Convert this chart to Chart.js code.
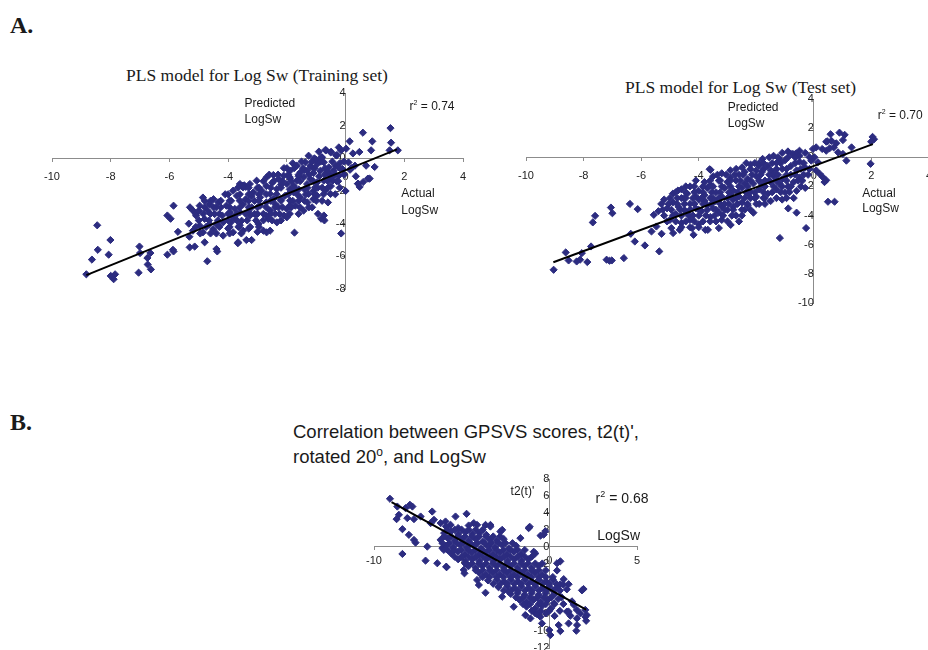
<!DOCTYPE html>
<html>
<head>
<meta charset="utf-8">
<title>PLS model for Log Sw</title>
<script src="https://cdn.jsdelivr.net/npm/chart.js@4.4.0/dist/chart.umd.min.js"></script>
<style>
  html, body { margin: 0; padding: 0; background: #fff; }
  body { width: 928px; height: 650px; overflow: hidden; position: relative;
         font-family: "Liberation Sans", Arial, sans-serif; }
  canvas { position: absolute; }
  .txt { position: absolute; white-space: nowrap; color: #1a1a1a; line-height: 1; }
  .serif { font-family: "Liberation Serif", "Times New Roman", serif; }
</style>
</head>
<body>

<div class="txt serif" style="left:10px; top:13px; font-size:24px; font-weight:bold;">A.</div>
<div class="txt serif" style="left:10px; top:410px; font-size:24px; font-weight:bold;">B.</div>

<div class="txt serif" style="left:126px; top:67px; font-size:17.5px;">PLS model for Log Sw (Training set)</div>
<div class="txt serif" style="left:625px; top:79px; font-size:17.5px;">PLS model for Log Sw (Test set)</div>

<div class="txt" style="left:293px; top:419px; font-size:18.5px; line-height:25px;">
  Correlation between GPSVS scores, t2(t)',<br>rotated 20<span style="position:relative; top:-7px; font-size:12px;">o</span>, and LogSw
</div>

<canvas id="trainChart" width="491" height="276" style="left:12px; top:53px;"></canvas>
<canvas id="testChart" width="483" height="284" style="left:486px; top:59px;"></canvas>
<canvas id="gpsvsChart" width="343" height="249" style="left:334px; top:439px;"></canvas>

<script>
// ---- data ----

// A. training set: [actual LogSw, predicted LogSw]
const trainingPoints = [
  [-8.46,-4.1],[-8.01,-5.0],[-8.44,-5.6],[-8.64,-6.2],[-8.07,-5.9],[-8.83,-7.1],[-8.0,-7.2],[-7.9,-7.4],
  [-7.85,-7.1],[-7.02,-5.4],[-7.0,-5.8],[-7.05,-7.0],[-6.75,-6.1],[-6.65,-5.8],[-6.74,-6.5],[-6.63,-6.8],
  [-6.07,-3.5],[-5.96,-3.7],[-5.86,-2.9],[-6.07,-5.9],[-5.88,-5.6],[-5.86,-5.7],[-5.71,-4.5],[-5.34,-4.0],
  [-5.32,-4.8],[-5.14,-5.4],[-5.3,-3.0],[-5.2,-3.2],[-5.1,-3.4],[-4.86,-2.4],[-4.71,-6.3],[-4.37,-5.7],
  [-3.67,-5.2],[-3.38,-5.0],[-3.55,-1.7],[-3.45,-1.65],[-3.4,-1.75],
  [0.59,1.57],[1.53,1.85],[1.55,0.96],[1.78,0.49],[1.5,0.49],[0.14,1.04],[0.91,1.04],[0.87,0.49],
  [0.47,0.39],[0.99,-0.53],[0.7,-0.45],[0.82,-1.24],[0.6,-1.45],[0.43,-1.55],[0.35,-1.1],[0.32,-0.45],
  [0.1,-0.25],[0.0,-2.0],[-0.15,-4.6],[-0.74,-3.5],[-0.83,-3.7],[-0.72,-3.8],[-0.94,-3.4],[-1.74,-4.55],
  [-0.43,-1.35],[-0.54,-0.94],[-0.66,0.49],[-0.49,0.39],[-0.32,0.18],[-0.15,0.49],[0.02,0.59],
  [0.76,-1.24],[0.42,-1.55],[0.48,-1.75],[-0.83,0.08],[-1.0,-0.1],[-1.17,-0.53],[-1.4,-0.73],[-1.91,-1.14],
  [-0.91,0.41],[-0.69,0.51],[-0.51,0.37],[-0.29,0.2],[-0.8,0.06],[-1.06,0.0],[-1.26,0.16],[-0.23,0.67],
  [-1.89,-0.76],[-1.66,-0.45],[-1.37,-0.24],[-1.2,-0.45],[-0.97,-0.35],[-0.74,-0.24],[-0.57,-0.55],
  [-0.34,-0.45],[-0.11,-0.65],[-1.54,-0.86],[-1.31,-0.76],[-1.09,-0.9],[-0.86,-0.76],[-0.63,-0.86],[-0.4,-0.76],
  [-3.26,-1.57],[-3.03,-1.37],[-2.69,-1.16],[-2.46,-1.02],[-2.29,-1.27],[-2.11,-1.06],[-1.89,-1.22],
  [-1.66,-1.37],[-1.43,-1.16],[-1.2,-1.27],[-0.97,-1.47],[-0.74,-1.37],[-0.51,-1.16],[-0.23,-1.06],
  [-2.0,-1.57],[-1.77,-1.67],[-1.31,-1.57],[-1.03,-1.78],[-3.6,-1.57],[-3.49,-1.67],[-3.66,-1.78],
  [-3.83,-1.98],[-3.49,-1.78],[-3.14,-2.08],[-2.86,-1.98],[-2.57,-2.18],[-2.34,-1.88],[-2.06,-2.29],
  [-1.77,-2.08],[-1.54,-2.39],[-1.26,-2.18],[-0.97,-2.29],[-0.69,-1.98],[-0.51,-2.18],[-2.91,-2.39],
  [-2.46,-2.49],[-1.89,-2.59],
  [-4.97,-2.9],[-4.63,-2.8],[-4.34,-2.69],[-4.06,-2.9],[-3.77,-3.1],[-3.49,-2.8],[-3.2,-3.0],[-2.91,-2.9],
  [-2.57,-3.2],[-2.29,-3.0],[-2.0,-3.1],[-1.71,-2.9],[-1.43,-3.2],[-1.14,-3.0],[-3.94,-3.31],
  [-5.09,-3.51],[-4.8,-3.71],[-4.46,-3.41],[-4.17,-3.92],[-3.83,-3.61],[-3.54,-3.82],[-3.26,-3.51],
  [-2.97,-4.02],[-2.63,-3.71],[-2.34,-3.92],[-2.0,-3.61],[-4.97,-4.12],[-4.63,-4.02],
  [-5.2,-4.43],[-4.86,-4.53],[-4.51,-4.33],[-4.17,-4.73],[-3.83,-4.53],[-3.49,-4.43],[-3.2,-5.0],
  [-2.8,-4.43],[-2.69,-4.53],[-2.57,-4.43],[-5.31,-5.45],[-4.8,-5.14],[-4.4,-5.55],[-3.66,-5.14],
  [-4.7,-3.2],[-4.4,-3.0],[-4.2,-3.5],[-3.9,-2.6],[-3.7,-2.3],[-3.4,-2.5],[-3.1,-2.6],[-3.3,-3.3],
  [-3.0,-3.4],[-2.7,-2.7],[-2.4,-2.8],[-2.2,-2.5],[-2.7,-3.5],[-2.4,-3.4],[-2.1,-3.5],[-1.9,-2.9],
  [-1.6,-2.6],[-1.3,-2.7],[-1.1,-2.5],[-0.8,-2.6],[-0.6,-2.7],[-1.9,-1.9],[-1.6,-1.9],[-1.4,-1.9],
  [-1.1,-2.0],[-0.8,-1.8],[-0.5,-1.7],[-2.7,-1.7],[-2.5,-1.5],[-2.2,-1.6],[-3.0,-1.8],[-3.2,-2.3],
  [-4.1,-2.2],[-4.5,-2.5],[-4.8,-2.6],[-5.0,-3.2],[-3.6,-3.3],[-3.9,-3.9],[-4.4,-4.0],[-4.6,-4.6],
  [-4.0,-4.3],[-3.6,-4.1],[-3.3,-4.3],[-3.0,-4.5],[-1.0,-0.1],[-0.9,-1.1],[-0.2,-0.3],[-0.3,-1.4],
  [0.15,-0.7],[0.25,0.3],[-1.6,-1.1],[-2.1,-0.6],[-1.8,-0.3],
  [-1.5,-0.2],[-1.15,-0.2],[-0.85,-0.2],[-0.45,-0.2],[-0.05,-0.2],
  [-2.0,-0.6],[-1.75,-0.6],[-1.45,-0.6],[-1.05,-0.6],[-0.7,-0.6],[-0.2,-0.6],[0.2,-0.6],
  [-2.6,-1.0],[-2.3,-1.0],[-1.95,-1.0],[-1.6,-1.0],[-1.25,-1.0],[-0.7,-1.0],[-0.35,-1.0],[-0.05,-1.0],
  [-2.8,-1.4],[-2.45,-1.4],[-2.15,-1.4],[-1.85,-1.4],[-1.55,-1.4],[-1.1,-1.4],[-0.6,-1.4],[-0.25,-1.4],
  [-3.3,-1.8],[-2.95,-1.8],[-2.55,-1.8],[-2.2,-1.8],[-1.75,-1.8],[-1.3,-1.8],[-0.95,-1.8],[-0.6,-1.8],[-0.2,-1.8],
  [-4.0,-2.2],[-3.6,-2.2],[-3.3,-2.2],[-2.95,-2.2],[-2.7,-2.2],[-2.35,-2.2],[-1.95,-2.2],[-1.65,-2.2],
  [-1.35,-2.2],[-1.05,-2.2],[-0.75,-2.2],[-0.35,-2.2],
  [-4.6,-2.6],[-4.25,-2.6],[-3.95,-2.6],[-3.6,-2.6],[-3.3,-2.6],[-2.95,-2.6],[-2.55,-2.6],[-2.2,-2.6],
  [-1.8,-2.6],[-1.4,-2.6],[-1.0,-2.6],
  [-4.8,-3.0],[-4.5,-3.0],[-4.25,-3.0],[-3.95,-3.0],[-3.6,-3.0],[-3.3,-3.0],[-3.0,-3.0],[-2.7,-3.0],
  [-2.4,-3.0],[-2.15,-3.0],[-1.85,-3.0],[-1.55,-3.0],[-1.25,-3.0],
  [-4.85,-3.4],[-4.6,-3.4],[-4.3,-3.4],[-4.0,-3.4],[-3.7,-3.4],[-3.4,-3.4],[-3.1,-3.4],[-2.8,-3.4],
  [-2.55,-3.4],[-2.25,-3.4],[-1.9,-3.4],[-1.6,-3.4],
  [-5.0,-3.8],[-4.65,-3.8],[-4.35,-3.8],[-4.0,-3.8],[-3.7,-3.8],[-3.35,-3.8],[-3.05,-3.8],[-2.8,-3.8],
  [-2.5,-3.8],[-2.2,-3.8],
  [-5.1,-4.2],[-4.75,-4.2],[-4.3,-4.2],[-3.95,-4.2],[-3.65,-4.2],[-3.25,-4.2],[-2.95,-4.2],
  [-4.95,-4.6],[-4.4,-4.6],[-3.95,-4.6],[-3.55,-4.6]
];
const trainingFit = [[-8.83,-7.15],[1.75,0.55]];
const trainingXTicks = [-10,-8,-6,-4,-2,0,2,4];
const trainingYTicks = [-8,-6,-4,-2,0,2,4];

// A. test set: [actual LogSw, predicted LogSw]
const testPoints = [
  [-9.04,-7.72],[-8.62,-6.53],[-8.52,-7.08],[-8.24,-7.15],[-8.12,-7.03],[-8.06,-6.58],[-7.87,-7.19],
  [-7.74,-6.12],[-7.68,-4.47],[-7.6,-4.02],[-7.2,-7.03],[-7.1,-7.1],[-7.02,-7.08],[-7.05,-3.45],
  [-7.0,-3.84],[-6.6,-6.92],[-6.39,-3.2],[-6.36,-5.25],[-6.22,-5.78],[-6.12,-3.56],[-5.87,-6.05],
  [-5.56,-3.95],[-5.37,-6.46],[-5.29,-5.25],[-5.64,-5.09],[-5.47,-4.75],[-4.72,-2.28],[-4.51,-2.81],
  [-3.62,-0.82],[-3.68,-4.98],[-4.18,-5.32],[-4.89,-5.2],[-4.66,-4.98],[-4.95,-4.86],
  [0.58,1.58],[1.07,1.54],[2.04,1.4],[2.09,1.24],[1.31,0.68],[0.47,1.09],[0.61,1.13],[-0.03,0.57],
  [0.08,0.68],[0.29,0.57],[0.43,0.45],[0.69,0.68],[0.84,0.34],[1.01,0.23],[1.13,-0.23],[1.97,-0.45],
  [0.08,-0.9],[0.2,-1.13],[0.31,-1.36],[0.43,-1.58],[0.37,-1.7],[0.49,-3.05],[0.72,-3.05],[0.02,0.0],
  [-0.09,-0.23],[0.14,-0.34],[-0.89,-3.51],[-0.27,-4.86],[-1.18,-5.54],[-0.76,0.23],[-0.62,0.27],
  [-0.5,0.11],[-1.55,0.0],[-1.9,-0.57],[-1.78,-0.11],[-3.59,-0.86],[-4.23,-4.86],[-3.77,-4.98],
  [-3.3,-4.86],[-2.89,-4.64],[-0.6,-3.8],[0.43,1.07],[0.55,0.62],[0.78,0.96],[0.89,1.69],[1.01,1.18],
  [1.99,1.07],
  [-1.4,0.1],[-1.1,0.3],[-0.9,0.4],[-0.7,0.2],[-0.5,0.45],[-0.3,0.3],[-1.2,-0.1],
  [-2.5,-0.7],[-2.2,-0.5],[-1.9,-0.4],[-1.6,-0.6],[-1.3,-0.4],[-1.0,-0.2],[-0.8,-0.6],[-0.5,-0.3],
  [-0.3,-0.7],[-2.0,-0.9],[-1.5,-0.9],[-1.1,-0.8],[-0.6,-0.9],[-2.9,-0.9],
  [-3.5,-1.3],[-3.2,-1.1],[-2.9,-1.4],[-2.6,-1.2],[-2.3,-1.5],[-2.0,-1.3],[-1.7,-1.6],[-1.4,-1.3],
  [-1.1,-1.5],[-0.8,-1.2],[-0.5,-1.4],[-0.2,-1.2],[-3.8,-1.7],[-3.0,-1.7],[-2.4,-1.8],[-1.8,-1.9],
  [-1.2,-1.8],[-0.7,-1.7],[-4.1,-1.6],
  [-4.6,-2.2],[-4.3,-2.0],[-4.0,-2.3],[-3.7,-2.1],[-3.4,-2.4],[-3.1,-2.1],[-2.8,-2.3],[-2.5,-2.1],
  [-2.2,-2.4],[-1.9,-2.2],[-1.6,-2.5],[-1.3,-2.2],[-1.0,-2.4],[-0.6,-2.3],[-0.3,-2.1],[-4.9,-2.5],
  [-5.2,-2.9],[-4.9,-3.1],[-4.6,-2.8],[-4.3,-3.2],[-4.0,-2.9],[-3.7,-3.3],[-3.4,-3.0],[-3.1,-3.2],
  [-2.8,-2.9],[-2.5,-3.1],[-2.2,-2.8],[-1.9,-3.2],[-1.5,-3.0],[-1.1,-2.9],[-0.7,-2.8],
  [-5.4,-3.7],[-5.1,-3.5],[-4.8,-3.9],[-4.5,-3.6],[-4.2,-4.0],[-3.9,-3.7],[-3.6,-4.1],[-3.3,-3.8],
  [-3.0,-3.6],[-2.7,-4.0],[-2.4,-3.6],[-2.1,-3.8],
  [-5.0,-4.3],[-4.6,-4.5],[-4.3,-4.3],[-4.0,-4.6],[-3.6,-4.4],[-3.2,-4.3],[-2.6,-4.4],
  [-4.4,-2.5],[-4.1,-2.7],[-3.8,-2.6],[-3.5,-2.8],[-3.2,-2.7],[-2.9,-2.6],[-2.6,-2.7],[-2.3,-2.5],
  [-2.0,-2.7],[-1.7,-2.8],[-4.7,-3.4],[-4.4,-3.8],[-4.1,-3.5],[-3.8,-3.0],[-3.5,-3.5],[-3.2,-3.4],
  [-2.8,-3.4],[-2.3,-3.3],[-3.6,-1.9],[-3.3,-1.6],[-2.7,-1.6],[-2.1,-1.8],[-1.5,-1.7],[-0.9,-2.0],
  [-0.4,-1.6],[-1.8,-1.0],[-1.4,-1.1],[-0.9,0.0],[-2.4,-1.0],
  [-1.25,0.0],[-0.65,0.0],[-0.15,0.0],
  [-2.35,-0.4],[-2.05,-0.4],[-1.75,-0.4],[-1.45,-0.4],[-1.15,-0.4],[-0.65,-0.4],[-0.35,-0.4],
  [-2.7,-0.8],[-2.2,-0.8],[-1.75,-0.8],[-1.3,-0.8],[-0.95,-0.8],[-0.45,-0.8],[-0.15,-0.8],
  [-3.35,-1.2],[-3.05,-1.2],[-2.75,-1.2],[-2.45,-1.2],[-2.15,-1.2],[-1.85,-1.2],[-1.55,-1.2],
  [-1.25,-1.2],[-0.95,-1.2],[-0.65,-1.2],[-0.35,-1.2],
  [-3.6,-1.6],[-3.25,-1.6],[-2.9,-1.6],[-2.55,-1.6],[-2.2,-1.6],[-1.9,-1.6],[-1.55,-1.6],[-1.3,-1.6],
  [-0.95,-1.6],[-0.55,-1.6],
  [-4.45,-2.0],[-4.15,-2.0],[-3.85,-2.0],[-3.5,-2.0],[-3.2,-2.0],[-2.9,-2.0],[-2.6,-2.0],[-2.3,-2.0],
  [-1.7,-2.0],[-1.4,-2.0],[-1.1,-2.0],[-0.8,-2.0],[-0.45,-2.0],
  [-4.8,-2.4],[-4.45,-2.4],[-4.15,-2.4],[-3.85,-2.4],[-3.55,-2.4],[-3.25,-2.4],[-2.95,-2.4],[-2.65,-2.4],
  [-2.35,-2.4],[-2.05,-2.4],[-1.75,-2.4],[-1.45,-2.4],[-1.15,-2.4],[-0.85,-2.4],
  [-5.0,-2.8],[-4.75,-2.8],[-4.45,-2.8],[-4.2,-2.8],[-3.9,-2.8],[-3.6,-2.8],[-3.3,-2.8],[-3.0,-2.8],
  [-2.7,-2.8],[-2.4,-2.8],[-2.05,-2.8],[-1.75,-2.8],[-1.3,-2.8],[-0.95,-2.8],
  [-5.3,-3.2],[-5.05,-3.2],[-4.75,-3.2],[-4.5,-3.2],[-4.15,-3.2],[-3.85,-3.2],[-3.55,-3.2],[-3.25,-3.2],
  [-2.95,-3.2],[-2.65,-3.2],[-2.3,-3.2],[-2.0,-3.2],[-1.7,-3.2],
  [-5.25,-3.6],[-4.95,-3.6],[-4.65,-3.6],[-4.3,-3.6],[-4.0,-3.6],[-3.7,-3.6],[-3.4,-3.6],[-3.1,-3.6],
  [-2.8,-3.6],[-2.5,-3.6],[-2.2,-3.6],
  [-5.2,-4.0],[-4.9,-4.0],[-4.6,-4.0],[-4.35,-4.0],[-4.0,-4.0],[-3.75,-4.0],[-3.45,-4.0],[-3.15,-4.0],
  [-2.85,-4.0],[-2.5,-4.0],
  [-5.1,-4.4],[-4.8,-4.4],[-4.45,-4.4],[-4.15,-4.4],[-3.85,-4.4],[-3.4,-4.4],[-3.0,-4.4],
  [-4.6,-4.8],[-4.3,-4.8],[-4.0,-4.8]
];
const testFit = [[-9.05,-7.2],[2.05,0.9]];
const testXTicks = [-10,-8,-6,-4,-2,0,2,4];
const testYTicks = [-10,-8,-6,-4,-2,0,2,4];

// B. GPSVS score t2(t)' against LogSw: [LogSw, t2(t)']
const gpsvsPoints = [
  [-9.09,5.66],[-8.67,4.74],[-8.58,3.76],[-8.71,3.25],[-8.38,2.06],[-8.01,1.39],[-7.72,0.79],[-7.63,0.47],
  [-8.38,-0.87],[-8.2,4.55],[-7.95,4.95],[-7.81,4.74],[-8.1,3.37],[-7.72,3.25],[-7.34,3.56],[-6.96,0.0],
  [-7.06,-1.66],[-6.39,-1.97],[-5.86,-2.44],[-6.68,4.15],[-6.58,3.17],[-6.77,2.78],[-6.2,2.78],[-5.92,2.97],
  [-5.63,2.57],[-6.1,-0.19],[-6.01,-0.39],[-5.35,3.56],[-4.72,3.88],[-4.88,-2.76],[-4.68,-2.17],
  [-5.88,-2.37],[-4.84,-3.16],
  [-1.12,2.35],[-0.23,1.82],[-0.32,1.42],[-0.89,-0.61],[-0.8,-0.81],[0.63,-1.74],[0.44,-2.83],[0.82,-3.85],
  [0.53,-4.66],[1.1,-4.45],[1.0,-5.06],[1.29,-6.48],[1.39,-6.88],[1.86,-5.18],[2.05,-7.49],[2.14,-8.1],
  [1.76,-7.89],[1.57,-7.49],[1.0,-7.69],[1.2,-8.18],[1.57,-8.5],[1.54,-9.96],[2.05,-8.3],[2.1,-8.78],
  [1.58,-9.29],[1.1,-9.09],[0.53,-9.29],[0.63,-10.0],[0.0,-9.88],[0.06,-10.47],[1.1,-7.7],[1.95,-5.02],
  [0.63,-4.46],[0.8,-4.5],[0.44,-1.97],[-1.18,2.18],[-0.5,1.3],[-1.65,1.0],[-2.79,1.78],[-3.36,2.57],
  [-3.64,2.57],[-4.12,2.57],[-3.64,-5.46],[-4.02,-4.54],[-4.12,-3.95],[-2.69,-5.93],[-2.32,-5.34],
  [-2.03,-7.12],[-1.37,-8.1],[-1.08,-8.5],[-0.8,-7.9],[-0.42,-9.09],[-0.51,-8.3],[0.25,-6.71],
  [-4.31,2.78],[-3.36,2.37],[-2.69,1.98],
  [-5.9,2.4],[-5.2,2.2],[-4.6,2.5],
  [-6.0,1.6],[-5.6,1.8],[-5.2,1.5],[-4.8,1.7],[-4.4,1.5],[-4.0,1.6],[-3.6,1.4],
  [-6.2,0.8],[-5.8,1.0],[-5.4,0.7],[-5.0,0.9],[-4.6,0.7],[-4.2,0.9],[-3.8,0.6],[-3.4,0.8],[-3.0,0.7],[-2.6,0.9],
  [-5.9,0.1],[-5.5,-0.1],[-5.1,0.2],[-4.7,-0.1],[-4.3,0.1],[-3.9,-0.2],[-3.5,0.0],[-3.1,-0.1],[-2.7,0.2],
  [-2.3,-0.2],[-1.9,0.1],
  [-5.6,-0.8],[-5.2,-0.6],[-4.8,-0.9],[-4.4,-0.7],[-4.0,-0.9],[-3.6,-0.7],[-3.2,-0.9],[-2.8,-0.7],
  [-2.4,-0.9],[-2.0,-0.6],[-1.6,-0.9],
  [-5.2,-1.5],[-4.8,-1.7],[-4.4,-1.5],[-4.0,-1.7],[-3.6,-1.5],[-3.2,-1.7],[-2.8,-1.5],[-2.4,-1.7],
  [-2.0,-1.5],[-1.6,-1.7],[-1.2,-1.5],
  [-4.6,-2.3],[-4.2,-2.5],[-3.8,-2.3],[-3.4,-2.5],[-3.0,-2.3],[-2.6,-2.5],[-2.2,-2.3],[-1.8,-2.5],
  [-1.4,-2.3],[-1.0,-2.5],[-0.6,-2.3],
  [-4.0,-3.1],[-3.6,-3.3],[-3.2,-3.1],[-2.8,-3.3],[-2.4,-3.1],[-2.0,-3.3],[-1.6,-3.1],[-1.2,-3.3],
  [-0.8,-3.1],[-0.4,-3.3],
  [-3.5,-4.0],[-3.0,-3.9],[-2.6,-4.1],[-2.2,-3.9],[-1.8,-4.1],[-1.4,-3.9],[-1.0,-4.1],[-0.6,-3.9],
  [-0.2,-4.1],[0.2,-3.9],
  [-2.9,-4.8],[-2.4,-4.7],[-2.0,-4.9],[-1.6,-4.7],[-1.2,-4.9],[-0.8,-4.7],[-0.4,-4.9],[0.0,-4.7],[0.4,-4.9],
  [-2.2,-5.6],[-1.8,-5.5],[-1.4,-5.7],[-1.0,-5.5],[-0.6,-5.7],[-0.2,-5.5],[0.3,-5.6],
  [-1.7,-6.3],[-1.3,-6.5],[-0.9,-6.3],[-0.5,-6.5],[-0.1,-6.3],[0.5,-6.2],
  [-1.3,-7.1],[-0.8,-7.3],[-0.4,-7.0],[0.1,-7.3],
  [-0.7,-8.0],[-0.2,-7.9],[0.3,-8.2],
  [-5.8,2.0],[-5.4,2.0],[-5.0,2.0],[-4.6,2.0],[-4.2,2.0],[-3.8,2.0],
  [-6.0,1.2],[-5.6,1.2],[-5.2,1.2],[-4.8,1.2],[-4.4,1.2],[-4.0,1.2],[-3.6,1.2],[-3.2,1.2],[-2.8,1.2],
  [-6.1,0.4],[-5.7,0.4],[-5.3,0.4],[-4.9,0.4],[-4.5,0.4],[-4.1,0.4],[-3.7,0.4],[-3.3,0.4],[-2.9,0.4],
  [-2.5,0.4],[-2.1,0.4],
  [-5.8,-0.4],[-5.4,-0.4],[-5.0,-0.4],[-4.6,-0.4],[-4.2,-0.4],[-3.8,-0.4],[-3.4,-0.4],[-3.0,-0.4],
  [-2.6,-0.4],[-2.2,-0.4],[-1.8,-0.4],[-1.4,-0.4],
  [-5.4,-1.2],[-5.0,-1.2],[-4.6,-1.2],[-4.2,-1.2],[-3.8,-1.2],[-3.4,-1.2],[-3.0,-1.2],[-2.6,-1.2],
  [-2.2,-1.2],[-1.8,-1.2],[-1.4,-1.2],[-1.0,-1.2],
  [-4.8,-2.0],[-4.4,-2.0],[-4.0,-2.0],[-3.6,-2.0],[-3.2,-2.0],[-2.8,-2.0],[-2.4,-2.0],[-2.0,-2.0],
  [-1.6,-2.0],[-1.2,-2.0],[-0.8,-2.0],[-0.4,-2.0],
  [-4.2,-2.8],[-3.8,-2.8],[-3.4,-2.8],[-3.0,-2.8],[-2.6,-2.8],[-2.2,-2.8],[-1.8,-2.8],[-1.4,-2.8],
  [-1.0,-2.8],[-0.6,-2.8],[-0.2,-2.8],
  [-3.8,-3.6],[-3.4,-3.6],[-3.0,-3.6],[-2.6,-3.6],[-2.2,-3.6],[-1.8,-3.6],[-1.4,-3.6],[-1.0,-3.6],
  [-0.6,-3.6],[-0.2,-3.6],[0.2,-3.6],
  [-3.2,-4.4],[-2.8,-4.4],[-2.4,-4.4],[-2.0,-4.4],[-1.6,-4.4],[-1.2,-4.4],[-0.8,-4.4],[-0.4,-4.4],
  [0.0,-4.4],[0.4,-4.4],
  [-2.6,-5.2],[-2.2,-5.2],[-1.8,-5.2],[-1.4,-5.2],[-1.0,-5.2],[-0.6,-5.2],[-0.2,-5.2],[0.2,-5.2],[0.6,-5.2],
  [-1.9,-6.0],[-1.5,-6.0],[-1.1,-6.0],[-0.7,-6.0],[-0.3,-6.0],[0.1,-6.0],[0.7,-6.0],
  [-1.5,-6.8],[-1.1,-6.8],[-0.6,-6.8],[-0.2,-6.8],[0.3,-6.8],[0.8,-6.8],
  [-1.0,-7.6],[-0.5,-7.6],[0.0,-7.6],[0.6,-7.6]
];
const gpsvsFit = [[-9.0,5.25],[2.1,-7.45]];
const gpsvsXTicks = [-10,-5,0,5];
const gpsvsYTicks = [-12,-10,-8,-6,-4,-2,0,2,4,6,8];

// ---- drawing ----

const FONT = '"Liberation Sans", Arial, sans-serif';
const POINT_COLOR = 'rgb(44,44,128)';
const AXIS_COLOR = '#8c8c8c';

Chart.defaults.font.family = FONT;

// text labels placed in data units of each chart
function notesPlugin(items) {
  return {
    id: 'notes',
    afterDraw(chart) {
      const ctx = chart.ctx;
      const sx = chart.scales.x, sy = chart.scales.y;
      ctx.save();
      ctx.fillStyle = '#1a1a1a';
      ctx.textBaseline = 'alphabetic';
      ctx.textAlign = 'left';
      items.forEach(n => {
        let x = sx.getPixelForValue(n.x);
        const y = sy.getPixelForValue(n.y);
        ctx.font = n.size + 'px ' + FONT;
        ctx.fillText(n.text, x, y);
        if (n.sup) {
          x += ctx.measureText(n.text).width;
          ctx.font = Math.round(n.size * 0.62) + 'px ' + FONT;
          ctx.fillText(n.sup, x, y - n.size * 0.42);
          x += ctx.measureText(n.sup).width;
          ctx.font = n.size + 'px ' + FONT;
          ctx.fillText(n.after, x, y);
        }
      });
      ctx.restore();
    }
  };
}

function axis(ticks, crossAt, tickLen, pad) {
  return {
    type: 'linear',
    position: crossAt,
    min: ticks[0],
    max: ticks[ticks.length - 1],
    afterBuildTicks: a => { a.ticks = ticks.map(v => ({ value: v })); },
    grid: { drawOnChartArea: false, color: AXIS_COLOR, tickLength: tickLen, tickWidth: 1 },
    border: { color: AXIS_COLOR, width: 1 },
    ticks: { padding: pad, color: '#222', font: { size: 11 }, autoSkip: false, maxRotation: 0 }
  };
}

function scatterPanel(id, points, fit, xTicks, yTicks, notes, xPad, yPad) {
  new Chart(document.getElementById(id), {
    type: 'scatter',
    data: {
      datasets: [
        {
          data: fit.map(p => ({ x: p[0], y: p[1] })),
          showLine: true,
          borderColor: '#000',
          borderWidth: 2,
          pointRadius: 0
        },
        {
          data: points.map(p => ({ x: p[0], y: p[1] })),
          pointStyle: 'rectRot',
          pointRadius: 3.6,
          borderWidth: 1,
          backgroundColor: POINT_COLOR,
          borderColor: POINT_COLOR
        }
      ]
    },
    options: {
      responsive: false,
      animation: false,
      layout: { padding: 40 },
      plugins: { legend: { display: false }, tooltip: { enabled: false }, title: { display: false } },
      scales: {
        x: axis(xTicks, { y: 0 }, 3, xPad),
        y: axis(yTicks, { x: 0 }, 3, yPad)
      }
    },
    plugins: [notesPlugin(notes)]
  });
}

scatterPanel('trainChart', trainingPoints, trainingFit, trainingXTicks, trainingYTicks, [
  { text: 'Predicted', x: -3.44, y: 3.14, size: 12 },
  { text: 'LogSw', x: -3.44, y: 2.14, size: 12 },
  { text: 'r', sup: '2', after: ' = 0.74', x: 2.18, y: 2.94, size: 12 },
  { text: 'Actual', x: 1.9, y: -2.37, size: 12 },
  { text: 'LogSw', x: 1.9, y: -3.38, size: 12 }
], 9, 1);

scatterPanel('testChart', testPoints, testFit, testXTicks, testYTicks, [
  { text: 'Predicted', x: -2.99, y: 3.19, size: 12 },
  { text: 'LogSw', x: -2.99, y: 2.1, size: 12 },
  { text: 'r', sup: '2', after: ' = 0.70', x: 2.22, y: 2.62, size: 12 },
  { text: 'Actual', x: 1.68, y: -2.7, size: 12 },
  { text: 'LogSw', x: 1.68, y: -3.73, size: 12 }
], 9, 4);

scatterPanel('gpsvsChart', gpsvsPoints, gpsvsFit, gpsvsXTicks, gpsvsYTicks, [
  { text: "t2(t)'", x: -2.21, y: 6.13, size: 12 },
  { text: 'r', sup: '2', after: ' = 0.68', x: 2.64, y: 5.15, size: 14 },
  { text: 'LogSw', x: 2.73, y: 0.79, size: 14 }
], 5, 4);
</script>
</body>
</html>
